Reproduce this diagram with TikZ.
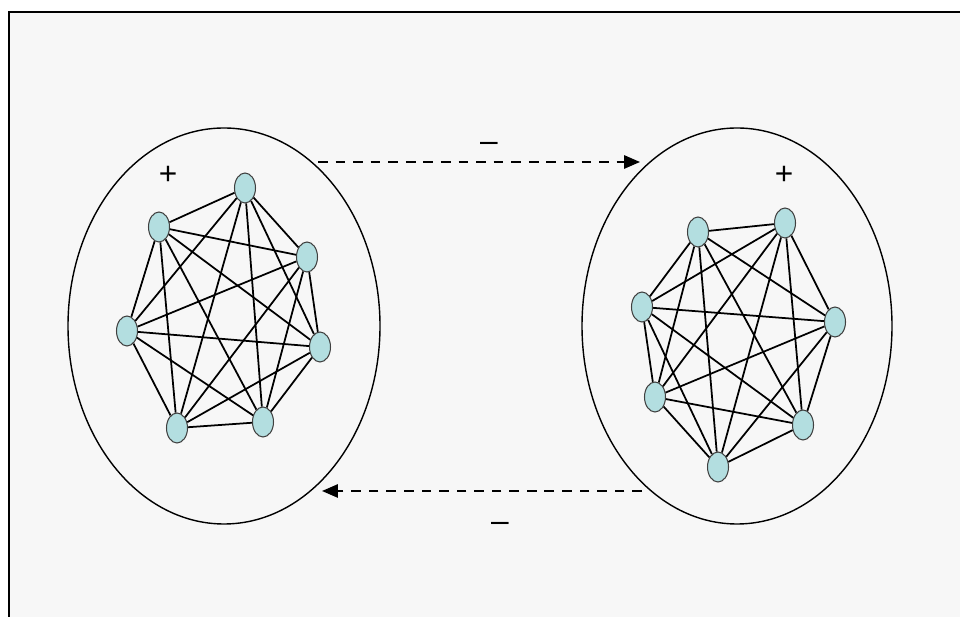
\documentclass[tikz,border=0pt]{standalone}
\usepackage{tikz}
\usepackage{xcolor}
\usepackage{fontspec}
\usetikzlibrary{arrows.meta,shapes.geometric}
\newfontfamily\signfont{Liberation Sans}
\definecolor{panelbg}{HTML}{F7F7F7}
\definecolor{vertfill}{HTML}{B3DEE0}

\begin{document}
\begin{tikzpicture}[x=0.02cm,y=-0.02cm,
        vert/.style={draw=black!75,fill=vertfill,ellipse,inner sep=0pt,
            minimum width=0.42cm,minimum height=0.6cm,line width=0.6pt},
        sign/.style={font=\signfont\fontsize{18}{20}\selectfont,inner sep=0pt},
        flow/.style={line width=1.1pt,dash pattern=on 5.5pt off 4.5pt,
            -{Triangle[length=9pt,width=7.5pt]}}]
                \useasboundingbox (0,0) rectangle (960,617);
                \fill[white] (0,0) rectangle (960,617);
                \fill[panelbg] (9,12) rectangle (960,617);
                \draw[line width=1.3pt] (9,617) -- (9,12) -- (960,12);
                % the two groups
                \draw[line width=0.8pt] (224,326) ellipse (156 and 198);
                \draw[line width=0.8pt] (737,326) ellipse (155 and 198);
                \node[vert] (L1) at (245,188) {};
                \node[vert] (L2) at (159,227) {};
                \node[vert] (L3) at (307,257) {};
                \node[vert] (L4) at (127,331) {};
                \node[vert] (L5) at (320,347) {};
                \node[vert] (L6) at (177,428) {};
                \node[vert] (L7) at (263,422) {};
                \node[vert] (R1) at (698,232) {};
                \node[vert] (R2) at (785,223) {};
                \node[vert] (R3) at (642,307) {};
                \node[vert] (R4) at (835,322) {};
                \node[vert] (R5) at (655,397) {};
                \node[vert] (R6) at (803,425) {};
                \node[vert] (R7) at (718,467) {};
                \foreach \i in {1,...,6}{
                    \pgfmathtruncatemacro\k{\i+1}
                    \foreach \j in {\k,...,7}{
                        \draw[line width=1pt] (L\i) -- (L\j);
                        \draw[line width=1pt] (R\i) -- (R\j);
                    }
                }
                \node[sign] (plusL) at (168,175) {+};
                \node[sign] (plusR) at (784,175) {+};
                % links between the groups
                \coordinate (topS) at (318,162);
                \coordinate (topE) at (640,162);
                \coordinate (botS) at (642,491);
                \coordinate (botE) at (322,491);
                \draw[flow] (topS) -- (topE);
                \draw[flow] (botS) -- (botE);
                \node[sign] (minusT) at (489,147) {–};
                \node[sign] (minusB) at (500,527) {–};
            \end{tikzpicture}
\end{document}
